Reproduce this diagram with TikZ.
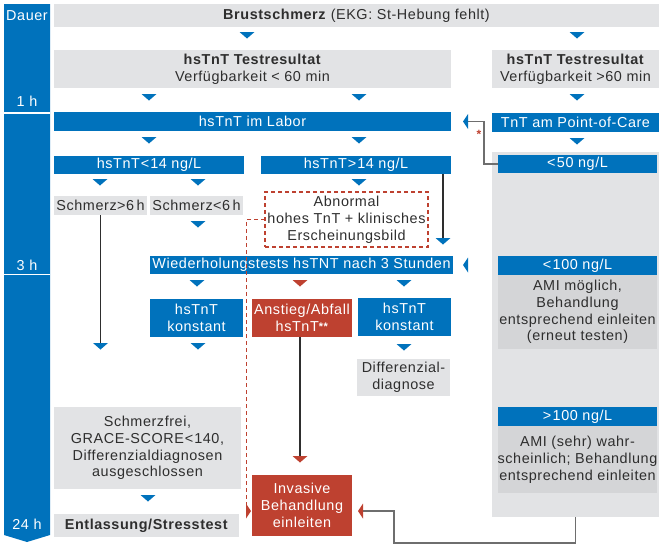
\documentclass[tikz,border=0pt]{standalone}
\usepackage{fontspec}
\setmainfont{Liberation Sans}[LetterSpace=4]
\usetikzlibrary{calc}
\definecolor{tblue}{HTML}{0072BC}
\definecolor{tgrey}{HTML}{E2E3E5}
\definecolor{tgreyd}{HTML}{D4D5D7}
\definecolor{tred}{HTML}{BE4130}
\definecolor{ttxt}{HTML}{2E2E2E}
\definecolor{tline}{HTML}{6E6E6E}
\newcommand\fs{\fontsize{14.4}{16.8}\selectfont}
\newcommand\bx[7]{\node[#6, minimum width={#4-#2}, minimum height={#5-#3}] (#1) at ({(#2+#4)/2},{(#3+#5)/2}) {#7};}
\newcommand\lt{\kern1pt<\kern1pt}
\newcommand\gt{\kern1pt>\kern1pt}
\tikzset{
  base/.style={inner sep=0pt, outer sep=0pt, align=center, font=\fs},
  gbox/.style={base, fill=tgrey, text=ttxt},
  dbox/.style={base, fill=tgreyd, text=ttxt},
  bbox/.style={base, fill=tblue, text=white},
  rbox/.style={base, fill=tred, text=white},
  dashbox/.style={base, draw=tred, line width=1.5pt, dash pattern=on 4pt off 3pt, text=ttxt},
  tlabel/.style={base, text=white},
  dline/.style={draw=ttxt, line width=1.2pt},
  gline/.style={draw=tline, line width=1.4pt},
  rdash/.style={draw=tred, line width=1.6pt, dash pattern=on 4pt off 3pt},
  dtri/.pic={\fill[pic actions] (-7.5,-3) -- (7.5,-3) -- (0,3.5) -- cycle;},
  ltri/.pic={\fill[pic actions] (2.5,-7.5) -- (2.5,7.5) -- (-2.5,0) -- cycle;},
  rtri/.pic={\fill[pic actions] (-2.5,-7.5) -- (-2.5,7.5) -- (2.5,0) -- cycle;},
}
\begin{document}
\begin{tikzpicture}[x=1pt,y=-1pt]
\useasboundingbox (0,0) rectangle (661,544);
% time bar
\fill[tblue] (4,4) -- (50,4) -- (50,535) -- (27,542) -- (4,535) -- cycle;
\draw[white, line width=2pt] (4,112.5) -- (50,112.5);
\draw[white, line width=1.3pt] (4,274.3) -- (50,274.3);
\node[tlabel] (t0) at (27,16) {Dauer};
\node[tlabel] (t1) at (27,101) {1 h};
\node[tlabel] (t3) at (27,265) {3 h};
\node[tlabel] (t24) at (27,524) {24 h};
% boxes
\bx{b0}{54}{4}{659}{27}{gbox}{\textbf{Brustschmerz} (EKG: St-Hebung fehlt)}
\bx{b1l}{54}{50}{451}{88}{gbox}{\textbf{hsTnT Testresultat}\\Verfügbarkeit < 60 min}
\bx{b1r}{492}{50}{659}{88}{gbox}{\textbf{hsTnT Testresultat}\\Verfügbarkeit >60 min}
\bx{lab}{54}{112}{451}{131}{bbox}{hsTnT im Labor}
\bx{poc}{492}{113}{659}{132}{bbox}{TnT am Point-of-Care}
\bx{lt14}{54}{156}{244}{174}{bbox}{hsTnT\lt 14 ng/L}
\bx{gt14}{261}{156}{451}{174}{bbox}{hsTnT\gt 14 ng/L}
\bx{s6a}{54}{196}{147}{215}{gbox}{Schmerz\kern0.5pt>\kern0.5pt6\,h}
\bx{s6b}{150}{196}{243}{215}{gbox}{Schmerz\kern0.5pt<\kern0.5pt6\,h}
\bx{abn}{265}{192}{428}{247}{dashbox}{Abnormal\\hohes TnT + klinisches\\Erscheinungsbild}
\bx{wdh}{150}{256}{453}{274}{bbox}{Wiederholungstests hsTNT nach 3 Stunden}
\bx{k1}{150}{299}{243}{337}{bbox}{hsTnT\\konstant}
\bx{anst}{252}{299}{352}{337}{rbox}{Anstieg/Abfall\\hsTnT\raisebox{1pt}{\fontsize{11}{11}\selectfont\textbf{**}}}
\bx{k2}{358}{298}{451}{336}{bbox}{hsTnT\\konstant}
\bx{diff}{357}{359}{450}{396}{gbox}{Differenzial-\\diagnose}
\bx{sfrei}{54}{407}{241}{489}{gbox}{Schmerzfrei,\\GRACE-SCORE\lt 140,\\Differenzialdiagnosen\\ausgeschlossen}
\bx{entl}{54}{514}{239}{537}{gbox}{\textbf{Entlassung/Stresstest}}
\bx{inv}{252}{475}{352}{536}{rbox}{Invasive\\Behandlung\\einleiten}
% right panel
\bx{rp}{492}{152}{659}{517}{gbox}{}
\bx{r50}{498}{155}{657}{173}{bbox}{<\kern1.5pt50 ng/L}
\bx{r100}{498}{256}{657}{275}{bbox}{<\kern1.5pt100 ng/L}
\bx{ami1}{498}{275}{657}{349}{dbox}{AMI möglich,\\Behandlung\\entsprechend einleiten\\(erneut testen)}
\bx{rg100}{498}{407}{657}{426}{bbox}{>\kern1.5pt100 ng/L}
\bx{ami2}{498}{426}{657}{493}{dbox}{AMI (sehr) wahr-\\scheinlich; Behandlung\\entsprechend einleiten}
% connectors
\coordinate (pa) at (468,121.5);
\draw[gline] (r50.west) -- ++(-14,0) |- (pa);
\pic[fill=tblue] at (465.5,121.5) {ltri};
\node[base, text=tred, font=\fontsize{12}{12}\selectfont\bfseries] (ast) at (479,134) {*};
\pic[fill=tblue] at (465.5,265) {ltri};
\coordinate (c1) at (443,238);
\draw[dline] (gt14.south -| c1) -- (c1);
\coordinate (c2) at (100.5,343);
\draw[dline] (s6a.south) -- (c2);
\coordinate (c3) at (300,456);
\draw[dline] (anst.south -| c3) -- (c3);
\coordinate (dl) at (246.5,511);
\draw[rdash] (abn.west) -| (dl);
\pic[fill=tred] at (248.5,511) {rtri};
\coordinate (ra) at (363,511);
\draw[gline] (rp.south) -- ++(0,26) -| (394,511) -- (ra);
\pic[fill=tred] at (360.5,511) {ltri};
% down triangles
\foreach \p in {(247,35),(577,35),(149,97),(359,97),(577,97),(149,140),(359,140),(577,141),(100,182),(198,182),(359,182),(198,224),(443,241),(197,283),(404,283),(100.5,346),(198,346),(404,347),(148,498)}
  \pic[fill=tblue] at \p {dtri};
\pic[fill=tred] at (300,283) {dtri};
\pic[fill=tred] at (300,459) {dtri};
\end{tikzpicture}
\end{document}
